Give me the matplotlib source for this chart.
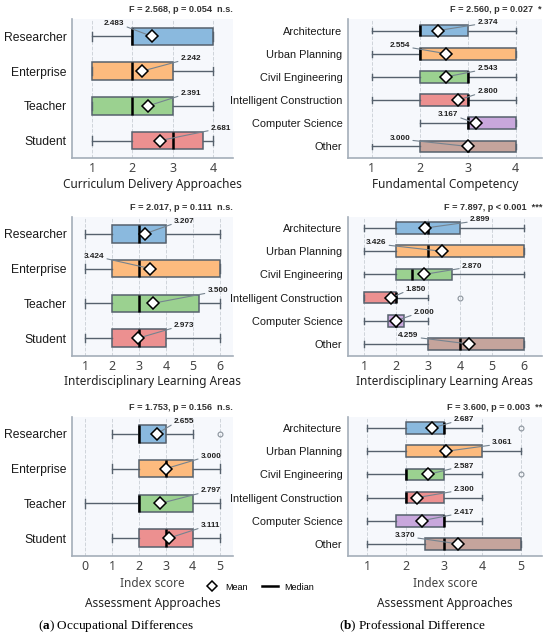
import matplotlib.pyplot as plt
from matplotlib.lines import Line2D

plt.rcParams["mathtext.fontset"] = "custom"
plt.rcParams["mathtext.rm"] = "Liberation Serif"
plt.rcParams["mathtext.bf"] = "Liberation Serif:bold"

occupations = ["Researcher", "Enterprise", "Teacher", "Student"]
majors = ["Architecture", "Urban Planning", "Civil Engineering",
          "Intelligent Construction", "Computer Science", "Other"]

colors = ["#8ab9de", "#fdbb7e", "#9bd190", "#ec9090", "#c8a7dc", "#c5a49c"]

# summaries per group: whislo, q1, median, q3, whishi
curr_occ = [[1, 2, 2, 4, 4], [1, 1, 2, 3, 4], [1, 1, 2, 3, 4], [1, 2, 3, 3.75, 4]]
curr_occ_mean = [2.483, 2.242, 2.391, 2.681]
curr_occ_fliers = [[], [], [], []]

fund_maj = [[1, 2, 2, 3, 4], [1, 2, 2, 4, 4], [1, 2, 3, 3, 4],
            [1, 2, 3, 3, 4], [2, 3, 3, 4, 4], [1, 2, 3, 4, 4]]
fund_maj_mean = [2.374, 2.554, 2.543, 2.800, 3.167, 3.000]
fund_maj_fliers = [[], [], [], [], [], []]

inter_occ = [[1, 2, 3, 4, 6], [1, 2, 3, 6, 6], [1, 2, 3, 5.25, 6], [1, 2, 3, 4, 6]]
inter_occ_mean = [3.207, 3.424, 3.500, 2.973]
inter_occ_fliers = [[], [], [], []]

inter_maj = [[1, 2, 3, 4, 6], [1, 2, 3, 6, 6], [1, 2, 2.5, 3.75, 6],
             [1, 1, 2, 2, 3], [1, 1.75, 2, 2.25, 3], [1, 3, 4, 6, 6]]
inter_maj_mean = [2.899, 3.426, 2.870, 1.850, 2.000, 4.259]
inter_maj_fliers = [[], [], [], [4], [], []]

assess_occ = [[1, 2, 2, 3, 4], [1, 2, 3, 4, 5], [0, 2, 2, 4, 5], [1, 2, 3, 4, 5]]
assess_occ_mean = [2.655, 3.000, 2.797, 3.111]
assess_occ_fliers = [[5], [], [], []]

assess_maj = [[1, 2, 3, 3, 4], [1, 2, 3, 4, 5], [1, 2, 2, 3, 4],
              [1, 2, 2, 3, 4], [1, 1.75, 3, 3, 4], [1, 2.5, 3, 5, 5]]
assess_maj_mean = [2.687, 3.061, 2.587, 2.300, 2.417, 3.370]
assess_maj_fliers = [[5], [], [5], [], [], []]

headers = {
    "curr": "F = 2.568, p = 0.054  n.s.",
    "fund": "F = 2.560, p = 0.027  *",
    "inter_occ": "F = 2.017, p = 0.111  n.s.",
    "inter_maj": "F = 7.897, p < 0.001  ***",
    "assess_occ": "F = 1.753, p = 0.156  n.s.",
    "assess_maj": "F = 3.600, p = 0.003  **",
}

EDGE = "#56616d"


def draw_panel(ax, cats, summ, means, fliers, xlim, xticks, header, ysize):
    stats = []
    for c, s, m, f in zip(cats, summ, means, fliers):
        stats.append(dict(label=c, whislo=s[0], q1=s[1], med=s[2], q3=s[3],
                          whishi=s[4], mean=m, fliers=f))
    n = len(cats)
    bp = ax.bxp(stats, positions=range(n), widths=0.5, orientation="horizontal",
                patch_artist=True, showmeans=True,
                boxprops=dict(edgecolor=EDGE, linewidth=1.1),
                whiskerprops=dict(color=EDGE, linewidth=1.0),
                capprops=dict(color=EDGE, linewidth=1.0),
                medianprops=dict(color="black", linewidth=1.8),
                meanprops=dict(marker="D", markerfacecolor="white",
                               markeredgecolor="black", markersize=6,
                               markeredgewidth=1.1, zorder=5),
                flierprops=dict(marker="o", markerfacecolor="none",
                                markeredgecolor="#8a939c", markersize=3.5,
                                markeredgewidth=0.8))
    for patch, col in zip(bp["boxes"], colors):
        patch.set_facecolor(col)

    ax.set_xlim(*xlim)
    ax.set_ylim(n - 0.5, -0.5)
    ax.set_xticks(xticks)
    ax.set_yticks(range(n))
    ax.set_yticklabels(cats, fontsize=ysize, family="Liberation Sans", color="#1a1a1a")
    for lab in ax.get_xticklabels():
        lab.set_family("Noto Sans")
    ax.tick_params(axis="x", labelsize=9, colors="#444444", length=0, pad=3)
    ax.tick_params(axis="y", length=0, pad=4)
    ax.set_facecolor("#f6f8fc")
    ax.grid(axis="x", linestyle="--", color="#cfd4da", linewidth=0.7)
    ax.set_axisbelow(True)
    for side in ["top", "right"]:
        ax.spines[side].set_visible(False)
    for side in ["left", "bottom"]:
        ax.spines[side].set_color("#a4aeb9")
        ax.spines[side].set_linewidth(1.2)

    # mean value labels
    span = xlim[1] - xlim[0]
    dx = 0.05 * span
    top = max(s[4] for s in summ)
    for i, (s, m) in enumerate(zip(summ, means)):
        if s[3] >= top:
            xt, ha, rel = s[1] - dx, "right", (1, 0.2)
        else:
            xt, ha, rel = s[3] + dx, "left", (0, 0.2)
        ax.annotate(f"{m:.3f}", xy=(m, i), xytext=(xt, i - 0.36), ha=ha, va="center",
                    fontsize=5.9, fontweight="bold", family="Liberation Sans",
                    color="#222222", zorder=3,
                    arrowprops=dict(arrowstyle="-", color="#75838f", lw=0.8,
                                    relpos=rel, shrinkA=0, shrinkB=0))

    ax.text(1.0, 1.065, header, transform=ax.transAxes, ha="right", va="center",
            fontsize=6.6, fontweight="bold", family="Liberation Sans", color="#333333")


def main():
    fig = plt.figure(figsize=(5.5, 6.4), dpi=100)
    lw_l, lw_w = 72 / 550, 161 / 550
    rw_l, rw_w = 348 / 550, 194 / 550
    h = 139 / 640
    bottoms = [1 - 158 / 640, 1 - 355.5 / 640, 1 - 555.5 / 640]

    ax1 = fig.add_axes([lw_l, bottoms[0], lw_w, h])
    ax2 = fig.add_axes([rw_l, bottoms[0], rw_w, h])
    ax3 = fig.add_axes([lw_l, bottoms[1], lw_w, h])
    ax4 = fig.add_axes([rw_l, bottoms[1], rw_w, h])
    ax5 = fig.add_axes([lw_l, bottoms[2], lw_w, h])
    ax6 = fig.add_axes([rw_l, bottoms[2], rw_w, h])

    draw_panel(ax1, occupations, curr_occ, curr_occ_mean, curr_occ_fliers,
               (0.5, 4.5), [1, 2, 3, 4], headers["curr"], 8.7)
    draw_panel(ax2, majors, fund_maj, fund_maj_mean, fund_maj_fliers,
               (0.5, 4.55), [1, 2, 3, 4], headers["fund"], 7.9)
    draw_panel(ax3, occupations, inter_occ, inter_occ_mean, inter_occ_fliers,
               (0.5, 6.5), [1, 2, 3, 4, 5, 6], headers["inter_occ"], 8.7)
    draw_panel(ax4, majors, inter_maj, inter_maj_mean, inter_maj_fliers,
               (0.5, 6.55), [1, 2, 3, 4, 5, 6], headers["inter_maj"], 7.9)
    draw_panel(ax5, occupations, assess_occ, assess_occ_mean, assess_occ_fliers,
               (-0.5, 5.5), [0, 1, 2, 3, 4, 5], headers["assess_occ"], 8.7)
    draw_panel(ax6, majors, assess_maj, assess_maj_mean, assess_maj_fliers,
               (0.5, 5.55), [1, 2, 3, 4, 5], headers["assess_maj"], 7.9)

    lab = dict(fontsize=8.5, family="Noto Sans", color="#222222", labelpad=2)
    ax1.set_xlabel("Curriculum Delivery Approaches", **lab)
    ax2.set_xlabel("Fundamental Competency", **lab)
    ax3.set_xlabel("Interdisciplinary Learning Areas", **lab)
    ax4.set_xlabel("Interdisciplinary Learning Areas", **lab)
    for ax in (ax5, ax6):
        ax.set_xlabel("Index score", fontsize=8.5, family="Noto Sans",
                      color="#444444", labelpad=3)
        ax.text(0.5, -47.5 / 139, "Assessment Approaches", transform=ax.transAxes,
                ha="center", va="center", fontsize=8.5, family="Noto Sans",
                color="#222222")

    handles = [
        Line2D([], [], marker="D", color="none", markerfacecolor="white",
               markeredgecolor="black", markersize=5.5, markeredgewidth=1.1,
               label="Mean"),
        Line2D([], [], color="black", lw=1.8, label="Median"),
    ]
    fig.legend(handles=handles, ncol=2, loc="center", bbox_to_anchor=(0.47, 1 - 587 / 640),
               frameon=False, prop=dict(family="Liberation Sans", size=6.5),
               handlelength=1.8, columnspacing=1.6, handletextpad=0.6)

    fig.text(116 / 550, 1 - 626 / 640, r"($\mathbf{a}$) Occupational Differences",
             ha="center", va="center", fontsize=9.5, family="Liberation Serif")
    fig.text(412 / 550, 1 - 626 / 640, r"($\mathbf{b}$) Professional Difference",
             ha="center", va="center", fontsize=9.5, family="Liberation Serif")

    fig.savefig("out.png", dpi=100)


if __name__ == "__main__":
    main()
